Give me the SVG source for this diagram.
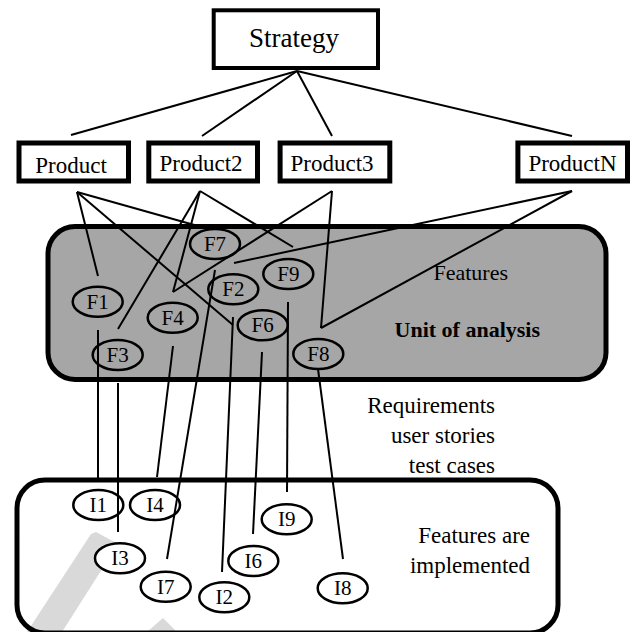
<svg xmlns="http://www.w3.org/2000/svg" width="634" height="632" viewBox="0 0 634 632">
<style>
.box{fill:#fff;stroke:#000;stroke-width:5}
.t{font-family:"Liberation Serif",serif;fill:#000}
.ln{stroke:#000;stroke-width:2;fill:none}
.el{fill:none;stroke:#000;stroke-width:2.5}
.eli{fill:#fff;stroke:#000;stroke-width:2.5}
.lab{font-family:"Liberation Serif",serif;font-size:21px;text-anchor:middle;fill:#000}
</style>
<rect width="634" height="632" fill="#fff"/>
<g id="panel-features">
<rect x="48" y="226.5" width="558" height="153" rx="27" fill="#a6a6a6" stroke="#000" stroke-width="5"/>
<text class="t" x="508" y="280" font-size="22" text-anchor="end">Features</text>
<text class="t" x="540" y="337" font-size="22" font-weight="bold" text-anchor="end">Unit of analysis</text>
</g>
<g id="panel-implemented">
<rect x="17" y="480" width="541" height="153" rx="28" fill="#fff"/>
<g id="watermark" fill="#d9d9d9">
<polygon points="91,534 96,532 118,544 62,632 27,632"/>
<polygon points="163,618 177,632 147,632"/>
</g>
<rect x="17" y="480" width="541" height="153" rx="28" fill="none" stroke="#000" stroke-width="5"/>
<text class="t" x="530" y="543" font-size="23" text-anchor="end">Features are</text>
<text class="t" x="530" y="573" font-size="23" text-anchor="end">implemented</text>
</g>
<g id="middle-text">
<text class="t" x="495" y="413" font-size="23" text-anchor="end">Requirements</text>
<text class="t" x="495" y="443" font-size="23" text-anchor="end">user stories</text>
<text class="t" x="495" y="473" font-size="23" text-anchor="end">test cases</text>
</g>
<g id="I1"><ellipse class="eli" cx="98.3" cy="505" rx="25" ry="15"/><text class="lab" x="98.3" y="512">I1</text></g>
<g id="I4"><ellipse class="eli" cx="155" cy="505" rx="25" ry="15"/><text class="lab" x="155" y="512">I4</text></g>
<g id="I9"><ellipse class="eli" cx="286.7" cy="519.3" rx="25" ry="15"/><text class="lab" x="286.7" y="526.3">I9</text></g>
<g id="I3"><ellipse class="eli" cx="120" cy="558.3" rx="25" ry="15"/><text class="lab" x="120" y="565.3">I3</text></g>
<g id="I6"><ellipse class="eli" cx="253.3" cy="561" rx="25" ry="15"/><text class="lab" x="253.3" y="568">I6</text></g>
<g id="I7"><ellipse class="eli" cx="165.7" cy="586.7" rx="25" ry="15"/><text class="lab" x="165.7" y="593.7">I7</text></g>
<g id="I2"><ellipse class="eli" cx="224.3" cy="597.3" rx="25" ry="15"/><text class="lab" x="224.3" y="604.3">I2</text></g>
<g id="I8"><ellipse class="eli" cx="342.7" cy="588.3" rx="25" ry="15"/><text class="lab" x="342.7" y="595.3">I8</text></g>
<g id="connectors">
<line class="ln" x1="297" y1="71" x2="71" y2="135"/>
<line class="ln" x1="297" y1="71" x2="202" y2="136"/>
<line class="ln" x1="297" y1="71" x2="332" y2="136"/>
<line class="ln" x1="297" y1="71" x2="572" y2="136"/>
<line class="ln" x1="77" y1="192" x2="98" y2="276"/>
<line class="ln" x1="77" y1="192" x2="233" y2="325"/>
<line class="ln" x1="77" y1="192" x2="205" y2="228"/>
<line class="ln" x1="200" y1="191" x2="118" y2="329"/>
<line class="ln" x1="200" y1="191" x2="173" y2="292"/>
<line class="ln" x1="200" y1="191" x2="293" y2="247"/>
<line class="ln" x1="332" y1="191" x2="173" y2="292"/>
<line class="ln" x1="332" y1="191" x2="321" y2="328"/>
<line class="ln" x1="572" y1="191" x2="321" y2="328"/>
<line class="ln" x1="572" y1="191" x2="234" y2="263"/>
<line class="ln" x1="98" y1="330" x2="98" y2="478"/>
<line class="ln" x1="118" y1="383" x2="118" y2="532"/>
<line class="ln" x1="173" y1="346" x2="157" y2="477"/>
<line class="ln" x1="215" y1="270" x2="167" y2="559"/>
<line class="ln" x1="233" y1="317" x2="222" y2="572"/>
<line class="ln" x1="262" y1="352" x2="253" y2="534"/>
<line class="ln" x1="288" y1="302" x2="287" y2="492"/>
<line class="ln" x1="318" y1="369" x2="343" y2="559"/>
</g>
<g id="strategy">
<rect x="213.7" y="10.3" width="164.3" height="57.7" fill="#fff" stroke="#000" stroke-width="4"/>
<text class="t" x="294" y="47" font-size="27" text-anchor="middle">Strategy</text>
</g>
<g id="product">
<rect class="box" x="19" y="143" width="109.5" height="38"/>
<text class="t" x="71" y="172.7" font-size="23" text-anchor="middle">Product</text>
</g>
<g id="product2">
<rect class="box" x="148.8" y="143" width="108.7" height="38"/>
<text class="t" x="201" y="170.7" font-size="23" text-anchor="middle">Product2</text>
</g>
<g id="product3">
<rect class="box" x="280.1" y="143" width="109.7" height="38"/>
<text class="t" x="332" y="171.3" font-size="23" text-anchor="middle">Product3</text>
</g>
<g id="productN">
<rect class="box" x="517.9" y="143" width="109.6" height="38"/>
<text class="t" x="572.5" y="171.3" font-size="23" text-anchor="middle">ProductN</text>
</g>
<g id="F7"><ellipse class="el" cx="215" cy="244" rx="25" ry="15"/><text class="lab" x="215" y="251">F7</text></g>
<g id="F9"><ellipse class="el" cx="288.3" cy="274" rx="25" ry="15"/><text class="lab" x="288.3" y="281">F9</text></g>
<g id="F2"><ellipse class="el" cx="233.3" cy="289.3" rx="25" ry="15"/><text class="lab" x="233.3" y="296.3">F2</text></g>
<g id="F1"><ellipse class="el" cx="97.7" cy="301.7" rx="25" ry="15"/><text class="lab" x="97.7" y="308.7">F1</text></g>
<g id="F4"><ellipse class="el" cx="172.7" cy="317.7" rx="25" ry="15"/><text class="lab" x="172.7" y="324.7">F4</text></g>
<g id="F6"><ellipse class="el" cx="262.7" cy="325.3" rx="25" ry="15"/><text class="lab" x="262.7" y="332.3">F6</text></g>
<g id="F3"><ellipse class="el" cx="117.7" cy="355" rx="25" ry="15"/><text class="lab" x="117.7" y="362">F3</text></g>
<g id="F8"><ellipse class="el" cx="318.3" cy="354" rx="25" ry="15"/><text class="lab" x="318.3" y="361">F8</text></g>
</svg>
